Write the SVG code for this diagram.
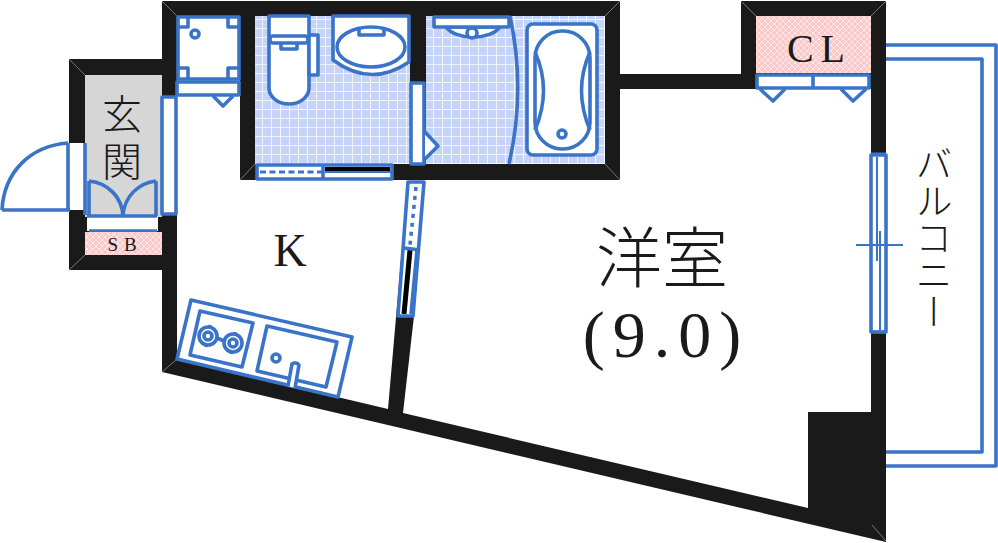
<svg xmlns="http://www.w3.org/2000/svg" width="998" height="543" viewBox="0 0 998 543">
<style>
.b{fill:none;stroke:#3a74c8;stroke-width:3.600;stroke-linejoin:round}
.w{fill:#fff;stroke:#3a74c8;stroke-width:3.600;stroke-linejoin:round}
.m{stroke:#777;stroke-width:1;fill:none}
.s{font-family:"Liberation Serif","Noto Sans CJK JP",serif;fill:#1a1a1a}
.j{font-family:"Noto Sans CJK JP",sans-serif;font-weight:300;fill:#1a1a1a}
</style>
<defs>
<pattern id="tile" width="9" height="9" patternUnits="userSpaceOnUse" x="1" y="1"><rect width="9" height="9" fill="#c6d4f9"/><path d="M0 0H9M0 0V9" stroke="#fff" stroke-width="1.600"/></pattern>
<pattern id="pink" width="6" height="6" patternUnits="userSpaceOnUse"><rect width="6" height="6" fill="#fdc9c9"/><path d="M0 0L6 6M6 0L0 6" stroke="#fff" stroke-width="1" opacity=".6"/></pattern>
</defs>
<rect width="998" height="543" fill="#fff"/>
<g id="walls">
<path fill="#1a1a1a" d="M69 59H162V1H620V74H741V1H886V542L162 372V270H69Z"/>
<path fill="#d6d6d6" d="M85 75H162V217H85Z"/>
<path fill="#fff" d="M69 143H85V210H69Z"/>
<path fill="#fff" d="M177 16H240V180H408L388 409L177 359V215H162V97H177Z"/>
<path fill="#fff" d="M425 180H620V89H871V412H808V508L403 413L414 316H397L408 180Z"/>
<path fill="#fff" d="M886 45H996V466H886V45Z"/>
<rect x="408" y="180" width="17" height="3" fill="#fff"/>
<path class="m" d="M162 1L177 16M620 1L605 16M741 1L756 16M886 1L871 16M69 59L85 75M69 270L85 255M162 372L177 359M886 541L872 525M255 164L240 180M620 180L605 164"/>
</g>
<g id="entrance">
<path class="b" d="M85 143V215M68 143V210M2 210H70M68 143C30 146 4 172 2 210"/>
<rect class="w" x="162" y="97" width="14" height="117"/>
<path d="M87 217H158V231H87Z" fill="#fff"/>
<path class="b" d="M89 181V216M156 181V216M87 216H157M89 231H157M89 181C108 183 122 197 123 216C124 197 138 183 156 181"/>
<text class="j" x="122" y="129" font-size="40" text-anchor="middle">玄</text>
<text class="j" x="122" y="176" font-size="40" text-anchor="middle">関</text>
</g>
<g id="shoe-box">
<rect x="85" y="232" width="77" height="23" fill="url(#pink)"/>
<text class="s" x="125" y="251" font-size="19" text-anchor="middle" letter-spacing="6">SB</text>
</g>
<g id="storage">
<rect class="w" x="178" y="17" width="61" height="62"/>
<path class="b" d="M179 27H188V18M238 27H228V18M179 68H188V78M238 68H228V78"/>
<circle class="b" cx="195" cy="34" r="4"/>
<rect class="w" x="177" y="82" width="62" height="13"/>
<path class="b" d="M213 96L223 106L233 96"/>
</g>
<g id="toilet-room">
<rect x="255" y="16" width="155" height="148" fill="url(#tile)"/>
<path class="w" d="M269 16H309V88A20 16 0 0 1 269 88Z"/>
<rect class="w" x="309" y="35" width="9" height="40"/>
<rect class="w" x="270" y="36" width="38" height="7" rx="3"/>
<path class="b" d="M281 44V49H297V44"/>
<path class="w" d="M333 16H409V62Q371 88 333 60Z"/>
<ellipse class="b" cx="371" cy="47" rx="34" ry="20"/>
<path class="b" d="M359 29V35H384V29"/>
<rect class="w" x="257" y="165" width="135" height="14"/>
<path d="M325 167H390V171H325Z" fill="#000"/>
<path class="b" d="M323 165V179"/>
<path d="M325 172H391" stroke="#3a74c8" stroke-width="2"/>
<path d="M260 172H322" fill="none" stroke="#3a74c8" stroke-width="3" stroke-dasharray="6 3.500"/>
</g>
<g id="bathroom">
<rect x="426" y="16" width="179" height="148" fill="url(#tile)"/>
<path class="w" d="M446 27A29 16 0 0 0 500 27Z"/>
<circle class="w" cx="472" cy="33" r="5"/>
<rect class="w" x="434" y="17" width="75" height="10"/>
<path class="b" d="M510 16Q526 90 509 164"/>
<rect class="w" x="527" y="24" width="70" height="131" rx="6"/>
<rect class="b" x="535" y="31" width="55" height="118" rx="27"/>
<path class="b" d="M535 52Q552 90 535 130M590 52Q573 90 590 130"/>
<circle class="b" cx="562" cy="134" r="4"/>
<rect class="w" x="411" y="83" width="13" height="81"/>
<path class="w" d="M425 132L438 146L425 159"/>
</g>
<g id="kitchen">
<path class="w" d="M191 300L352 337L338 397L177 359Z"/>
<path class="b" d="M200 311L253 323L242 367L190 355Z"/>
<path class="b" d="M267 326L337 342L326 387L257 371Z"/>
<path class="b" d="M217 338L224 341M210 325L206 347M235 332L231 354"/>
<circle class="w" cx="208" cy="336" r="9"/>
<circle class="b" cx="208" cy="336" r="4"/>
<circle class="w" cx="233" cy="343" r="9"/>
<circle class="b" cx="233" cy="343" r="4"/>
<circle class="b" cx="276" cy="358" r="4"/>
<path class="w" d="M288 386L292 364A5 5 0 0 1 299 365L295 388"/>
<text class="s" x="290" y="266" font-size="46" text-anchor="middle">K</text>
</g>
<g id="sliding-door">
<path fill="#fff" d="M408 182H424L413 316H398Z"/>
<path d="M410 250L404 314" stroke="#000" stroke-width="5"/>
<path class="b" d="M417 250L411 314"/>
<path class="b" d="M408 182H424L413 316H398Z"/>
<path class="b" d="M404 248L420 250"/>
<path d="M416 187L410 245" fill="none" stroke="#3a74c8" stroke-width="3.500" stroke-dasharray="4 5"/>
</g>
<g id="western-room">
<text class="j" x="662" y="282" font-size="66" text-anchor="middle">洋室</text>
<text class="s" x="666" y="357" font-size="66" text-anchor="middle" letter-spacing="8">(9.0)</text>
</g>
<g id="closet">
<rect x="756" y="16" width="115" height="57" fill="url(#pink)"/>
<text class="s" x="787" y="62" font-size="40" textLength="58">CL</text>
<rect class="w" x="757" y="75" width="112" height="13"/>
<path class="b" d="M813 75V88M760 89L773 101L785 89M841 89L853 101L866 89"/>
</g>
<g id="balcony">
<path class="b" d="M886 45H996V466H886M886 59H982V452H886"/>
<rect class="w" x="871" y="155" width="15" height="177"/>
<path d="M871 154H886M871 332H886" stroke="#3a74c8" stroke-width="3"/>
<path d="M877 157V261M880 231V330M856 245H903" fill="none" stroke="#3a74c8" stroke-width="2"/>
<text class="j" x="934" y="145" font-size="37" style="writing-mode:vertical-rl">バルコニー</text>
</g>
</svg>
